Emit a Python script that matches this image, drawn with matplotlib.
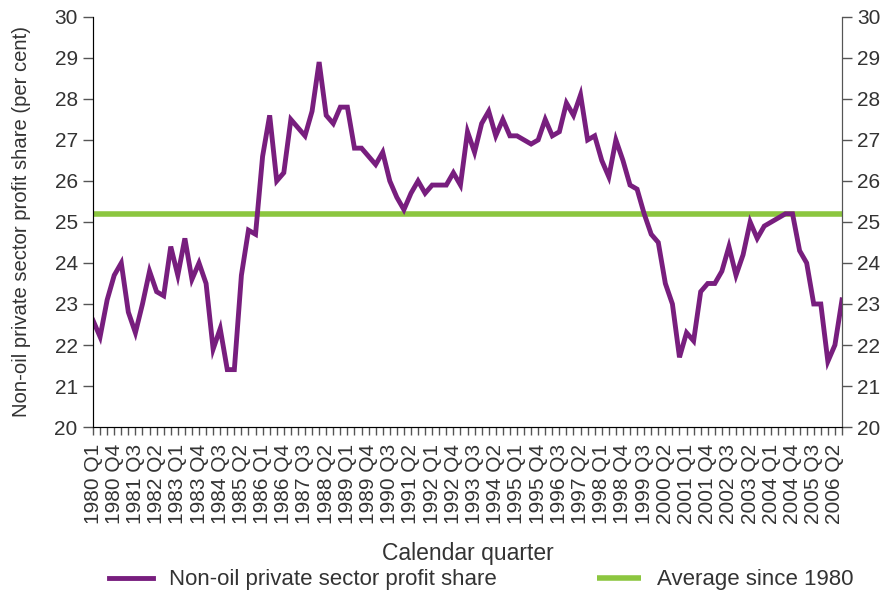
import matplotlib
matplotlib.use('Agg')
import matplotlib.pyplot as plt

plt.rcParams['font.family'] = ['Liberation Sans', 'DejaVu Sans']

# Datos: trimestres 1980 Q1 - 2006 Q3
trimestres = [f'{1980 + k // 4} Q{k % 4 + 1}' for k in range(107)]
beneficio = [22.6, 22.2, 23.1, 23.7, 24.0, 22.8, 22.3, 23.0, 23.8, 23.3,
             23.2, 24.4, 23.7, 24.6, 23.6, 24.0, 23.5, 21.9, 22.4, 21.4,
             21.4, 23.7, 24.8, 24.7, 26.6, 27.6, 26.0, 26.2, 27.5, 27.3,
             27.1, 27.7, 28.9, 27.6, 27.4, 27.8, 27.8, 26.8, 26.8, 26.6,
             26.4, 26.7, 26.0, 25.6, 25.3, 25.7, 26.0, 25.7, 25.9, 25.9,
             25.9, 26.2, 25.9, 27.2, 26.7, 27.4, 27.7, 27.1, 27.5, 27.1,
             27.1, 27.0, 26.9, 27.0, 27.5, 27.1, 27.2, 27.9, 27.6, 28.1,
             27.0, 27.1, 26.5, 26.1, 27.0, 26.5, 25.9, 25.8, 25.2, 24.7,
             24.5, 23.5, 23.0, 21.7, 22.3, 22.1, 23.3, 23.5, 23.5, 23.8,
             24.4, 23.7, 24.2, 25.0, 24.6, 24.9, 25.0, 25.1, 25.2, 25.2,
             24.3, 24.0, 23.0, 23.0, 21.6, 22.0, 23.1]
promedio = 25.2

morado = '#781E7E'
verde = '#8CC63F'
gris = '#333333'

fig = plt.figure(figsize=(8.91, 6.04), dpi=100)
ax = fig.add_axes([0.1044, 0.293, 0.8406, 0.679])

x = list(range(len(trimestres)))
ax.plot([x[0], x[-1]], [promedio, promedio], color=verde, lw=4,
        solid_capstyle='butt', label='Average since 1980')
ax.plot(x, beneficio, color=morado, lw=3.5, solid_joinstyle='miter',
        label='Non-oil private sector profit share')

ax.set_xlim(0, len(trimestres) - 1)
ax.set_ylim(20, 30)
ax.set_yticks(range(20, 31))
ax.set_xticks(x[::3])
ax.set_xticklabels(trimestres[::3], rotation=90, fontsize=15, color=gris)
ax.set_xticks(x, minor=True)
ax.tick_params(axis='x', which='both', direction='out', length=6,
               width=1, color='#555555', pad=6)
ax.tick_params(axis='y', direction='out', length=7, width=1,
               color='#555555', labelsize=15, labelcolor=gris, pad=4)

for lado in ['left', 'right', 'bottom']:
    ax.spines[lado].set_color('#555555')
ax.spines['top'].set_visible(False)

ax2 = ax.twinx()
ax2.set_ylim(20, 30)
ax2.set_yticks(range(20, 31))
ax2.tick_params(axis='y', direction='out', length=7, width=1,
                color='#555555', labelsize=15, labelcolor=gris, pad=4)
ax2.spines['top'].set_visible(False)
ax2.spines['right'].set_color('#555555')

ax.set_ylabel('Non-oil private sector profit share (per cent)',
              fontsize=14.6, color=gris)
ax.yaxis.set_label_coords(-0.083, 0.5)
ax.set_xlabel('Calendar quarter', fontsize=16.5, color=gris)
ax.xaxis.set_label_coords(0.5, -0.28)

handles, labels = ax.get_legend_handles_labels()
leg = fig.legend(handles[::-1], labels[::-1], loc='center', ncol=2,
                 bbox_to_anchor=(0.54, 0.04), frameon=False, fontsize=16,
                 handlelength=2.0, handletextpad=0.7, columnspacing=4.5,
                 labelcolor=gris)

fig.savefig('out.png', dpi=100)
